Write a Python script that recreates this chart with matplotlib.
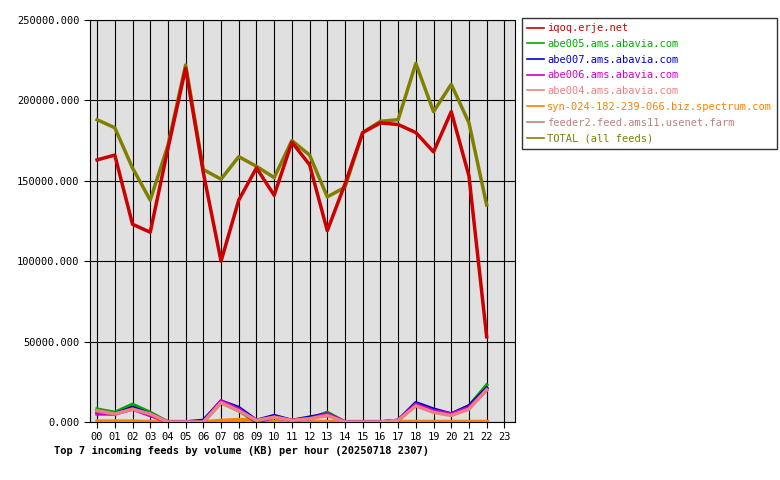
import matplotlib
matplotlib.use("Agg")
import matplotlib.pyplot as plt

hours = list(range(23))
hour_labels = ["%02d" % h for h in range(24)]

iqoq = [163000, 166000, 123000, 118000, 170000, 220000, 155000, 100000, 138000, 158000, 141000, 174000,
        160000, 119000, 148000, 180000, 186000, 185000, 180000, 168000, 193000, 153000, 53000]
abe005 = [8000, 6000, 11000, 6000, 0, 0, 0, 12000, 7000, 0, 3000, 1000, 2000, 6000, 0, 0, 0, 1000,
          11000, 7000, 5000, 10000, 23000]
abe007 = [6000, 5000, 9000, 5000, 0, 0, 1000, 13000, 9000, 1000, 4000, 1000, 3000, 5000, 0, 0, 0, 1000,
          12000, 8000, 5000, 10000, 21000]
abe006 = [5000, 5000, 8000, 4000, 0, 0, 0, 13000, 8000, 0, 3000, 1000, 2000, 5000, 0, 0, 0, 1000,
          11000, 7000, 5000, 9000, 20000]
abe004 = [7000, 5000, 8000, 5000, 0, 0, 0, 12000, 7000, 1000, 3000, 1000, 2000, 4000, 0, 0, 0, 1000,
          10000, 6000, 4000, 8000, 20000]
spectrum = [500, 500, 500, 0, 0, 0, 0, 1000, 1500, 1500, 0, 0, 0, 0, 0, 0, 0, 0, 0, 0, 0, 0, 0]
feeder2 = [400] * 23
total = [188000, 183000, 158000, 138000, 172000, 222000, 157000, 151000, 165000, 159000, 152000, 175000,
         166000, 140000, 146000, 180000, 187000, 188000, 223000, 193000, 210000, 186000, 135000]

series = [
    ("iqoq.erje.net", iqoq, "#cc0000"),
    ("abe005.ams.abavia.com", abe005, "#00aa00"),
    ("abe007.ams.abavia.com", abe007, "#0000cc"),
    ("abe006.ams.abavia.com", abe006, "#cc00cc"),
    ("abe004.ams.abavia.com", abe004, "#f08080"),
    ("syn-024-182-239-066.biz.spectrum.com", spectrum, "#ff8000"),
    ("feeder2.feed.ams11.usenet.farm", feeder2, "#c08080"),
    ("TOTAL (all feeds)", total, "#808000"),
]

plt.rcParams["font.family"] = "DejaVu Sans Mono"
fig = plt.figure(figsize=(7.8, 4.8), dpi=100)
ax = fig.add_axes([90 / 780, 58 / 480, 425 / 780, 402 / 480])
ax.set_facecolor("#e0e0e0")
ax.set_axisbelow(True)
ax.grid(True, color="black", linewidth=0.8)

# small feeds first, big ones on top
order = [7, 0, 6, 5, 1, 2, 3, 4]
for i in order:
    name, vals, col = series[i]
    ax.plot(hours, vals, color=col, linewidth=2.5, label=name, zorder=3)

ax.set_xlim(-0.4, 23.6)
ax.set_ylim(0, 250000)
ax.set_xticks(range(24))
ax.set_xticklabels(hour_labels, fontsize=7.5)
ax.set_yticks(range(0, 250001, 50000))
ax.set_yticklabels(["%d.000" % v for v in range(0, 250001, 50000)], fontsize=7.5)
ax.tick_params(length=4)
ax.set_xlabel("Top 7 incoming feeds by volume (KB) per hour (20250718 2307)",
              fontsize=7.5, fontweight="bold", loc="left", labelpad=2)
ax.xaxis.set_label_coords(-0.085, -0.06)

handles = {h.get_label(): h for h in ax.get_lines()}
leg = fig.legend([handles[s[0]] for s in series], [s[0] for s in series],
                 loc="upper left", bbox_to_anchor=(522 / 780, 1 - 18 / 480),
                 fontsize=7.5, frameon=True, fancybox=False, edgecolor="black",
                 handlelength=1.6, handletextpad=0.3, labelspacing=0.55, borderpad=0.5,
                 borderaxespad=0)
for t, s in zip(leg.get_texts(), series):
    t.set_color(s[2])
for l in leg.get_lines():
    l.set_linewidth(1.2)

fig.savefig("out.png")
